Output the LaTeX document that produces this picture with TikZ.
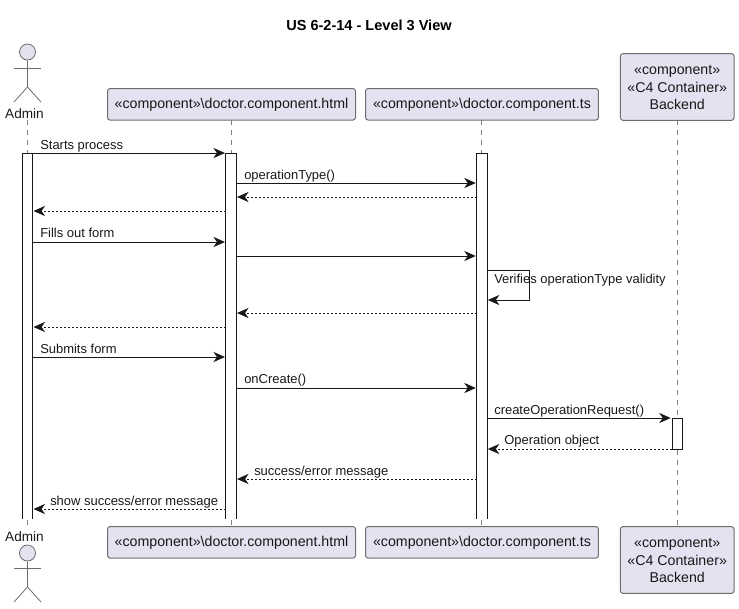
\documentclass[tikz,border=0pt]{standalone}
\usepackage{fontspec}
\setmainfont{Liberation Sans}
\usetikzlibrary{arrows.meta}
\definecolor{partfill}{HTML}{E2E2F0}
\definecolor{ink}{HTML}{181818}
\definecolor{lifegray}{HTML}{808080}
\newcommand{\partline}[1]{\raisebox{-0.7pt}[\height][\depth]{#1}}
\tikzset{
  x=0.75pt,y=-0.75pt,
  part/.style={draw=lifegray!85!black,fill=partfill,rounded corners=1.9pt,line width=0.75pt,inner sep=0pt,align=center,font=\fontsize{10.65pt}{13.1pt}\selectfont,text=ink},
  life/.style={draw=lifegray,line width=0.55pt,dash pattern=on 3.75pt off 3.75pt},
  barnode/.style={fill=white,draw=none,inner sep=0pt,minimum width=7.5pt},
  baredge/.style={draw=ink,line width=0.75pt},
  tip/.style={-{Stealth[length=8.6pt,width=7.6pt,inset=2.6pt]},shorten >=0.6pt},
  msg/.style={draw=ink,line width=0.75pt,tip},
  ret/.style={draw=ink,line width=0.6pt,dash pattern=on 1.5pt off 1.5pt,tip},
  lab/.style={anchor=base west,inner sep=0pt,text=ink,font=\fontsize{9.72pt}{11pt}\selectfont},
  actorlimb/.style={draw=lifegray!85!black,line width=0.6pt},
  actorhead/.style={circle,draw=lifegray!85!black,fill=partfill,line width=0.6pt,minimum size=12pt,inner sep=0pt},
  actorname/.style={inner sep=0pt,text=ink,font=\fontsize{10.2pt}{12pt}\selectfont},
}
\begin{document}
\begin{tikzpicture}
\useasboundingbox (0,0) rectangle (739,608);
\node[font=\bfseries\fontsize{10.9pt}{13pt}\selectfont,inner sep=0pt] (title) at (369,25.5) {US 6-2-14 - Level 3 View};

% lifeline anchors
\coordinate (la) at (27.5,120);  \coordinate (lae) at (27.5,526);
\coordinate (lb) at (231,120);   \coordinate (lbe) at (231,526);
\coordinate (lc) at (481.5,120); \coordinate (lce) at (481.5,526);
\coordinate (ld) at (677,120);   \coordinate (lde) at (677,526);
\draw[life] (la) -- (lae);
\draw[life] (lb) -- (lbe);
\draw[life] (lc) -- (lce);
\draw[life] (ld) -- (lde);

% participants, top
\node[part,minimum width=186pt,minimum height=23.6pt] (ptop) at (231.5,104.3) {\partline{«component»\textbackslash doctor.component.html}};
\node[part,minimum width=174.7pt,minimum height=23.6pt] (qtop) at (482,104.3) {\partline{«component»\textbackslash doctor.component.ts}};
\node[part,minimum width=85.2pt,minimum height=50pt] (rtop) at (677.2,87) {\partline{«component»}\\\partline{«C4 Container»}\\\partline{Backend}};
% participants, bottom
\node[part,minimum width=186pt,minimum height=23.6pt] (pbot) at (231.5,542.3) {\partline{«component»\textbackslash doctor.component.html}};
\node[part,minimum width=174.7pt,minimum height=23.6pt] (qbot) at (482,542.3) {\partline{«component»\textbackslash doctor.component.ts}};
\node[part,minimum width=85.2pt,minimum height=50pt] (rbot) at (677.2,560) {\partline{«component»}\\\partline{«C4 Container»}\\\partline{Backend}};

% actor, top
\node[actorhead] (headt) at (27.5,52) {};
\coordinate (armtl) at (14,68); \coordinate (armtr) at (41,68);
\coordinate (hipt) at (27.5,87); \coordinate (legtl) at (14,102); \coordinate (legtr) at (41,102);
\draw[actorlimb] (headt.south) -- (hipt) -- (legtl);
\draw[actorlimb] (hipt) -- (legtr);
\draw[actorlimb] (armtl) -- (armtr);
\node[actorname] (admt) at (24.5,113.5) {Admin};
% actor, bottom
\node[actorname] (admb) at (24.5,536.5) {Admin};
\node[actorhead] (headb) at (27.5,553) {};
\coordinate (armbl) at (14,568); \coordinate (armbr) at (41,568);
\coordinate (hipb) at (27.5,587); \coordinate (legbl) at (14,602); \coordinate (legbr) at (41,602);
\draw[actorlimb] (headb.south) -- (hipb) -- (legbl);
\draw[actorlimb] (hipb) -- (legbr);
\draw[actorlimb] (armbl) -- (armbr);

% activation bars
\node[barnode,minimum height=274pt] (ba) at (27.5,336.3) {};
\node[barnode,minimum height=274pt] (bb) at (231,336.3) {};
\node[barnode,minimum height=274pt] (bc) at (481.8,336.3) {};
\node[draw=ink,line width=0.75pt,fill=white,inner sep=0pt,minimum width=7.5pt,minimum height=23.25pt] (bd) at (677,434) {};
\draw[baredge] (ba.south west) -- (ba.north west) -- (ba.north east) -- (ba.south east);
\draw[baredge] (bb.south west) -- (bb.north west) -- (bb.north east) -- (bb.south east);
\draw[baredge] (bc.south west) -- (bc.north west) -- (bc.north east) -- (bc.south east);

% message rows
\foreach \n/\y in {a/153,b/183,c/197,d/211,e/242,f/256,g/270,h/300,i/313,j/327,k/357,l/388,m/418,n/449,o/479,p/509}
  \coordinate (r\n) at (0,\y);
\coordinate (selfa) at (529,270);
\coordinate (selfb) at (529,300);

\draw[msg] (ba.east |- ra) -- (bb.west |- ra);
\draw[msg] (bb.east |- rb) -- (bc.west |- rb);
\draw[ret] (bc.west |- rc) -- (bb.east |- rc);
\draw[ret] (bb.west |- rd) -- (ba.east |- rd);
\draw[msg] (ba.east |- re) -- (bb.west |- re);
\draw[msg] (bb.east |- rf) -- (bc.west |- rf);
\draw[msg] (bc.east |- rg) -- (selfa) -- (selfb) -- (bc.east |- rh);
\draw[ret] (bc.west |- ri) -- (bb.east |- ri);
\draw[ret] (bb.west |- rj) -- (ba.east |- rj);
\draw[msg] (ba.east |- rk) -- (bb.west |- rk);
\draw[msg] (bb.east |- rl) -- (bc.west |- rl);
\draw[msg] (bc.east |- rm) -- (bd.west |- rm);
\draw[ret] (bd.west |- rn) -- (bc.east |- rn);
\draw[ret] (bc.west |- ro) -- (bb.east |- ro);
\draw[ret] (bb.west |- rp) -- (ba.east |- rp);

% message labels
\node[lab] (t1) at (40,149) {Starts process};
\node[lab] (t2) at (244,179) {operationType()};
\node[lab] (t3) at (40,237.5) {Fills out form};
\node[lab] (t4) at (494,283) {Verifies operationType validity};
\node[lab] (t5) at (40,353.5) {Submits form};
\node[lab] (t6) at (244,383.5) {onCreate()};
\node[lab] (t7) at (494,414) {createOperationRequest()};
\node[lab] (t8) at (504,444) {Operation object};
\node[lab] (t9) at (254,475) {success/error message};
\node[lab] (t10) at (50,505) {show success/error message};
\end{tikzpicture}
\end{document}
